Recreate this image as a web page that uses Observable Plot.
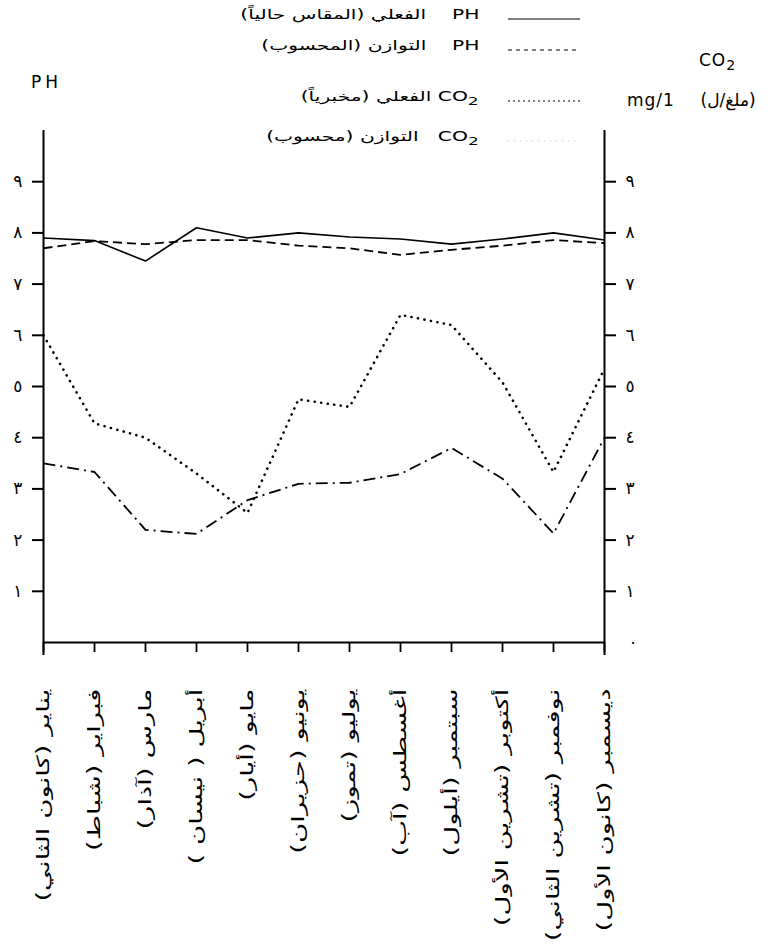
<!DOCTYPE html>
<html>
<head>
<meta charset="utf-8">
<script src="https://cdn.jsdelivr.net/npm/d3@7"></script>
<script src="https://cdn.jsdelivr.net/npm/@observablehq/plot@0.6"></script>
<style>
  body { margin: 0; background: #fff; }
  #wrap { position: relative; width: 771px; height: 951px; font-family: "DejaVu Sans", sans-serif; color: #000; }
  #wrap svg.plot { position: absolute; left: 0; top: 0; }
  .lg { position: absolute; font-size: 13.5px; white-space: nowrap; }
  .lgtext { position: absolute; right: 292px; direction: rtl; text-align: right; transform: scaleX(1.5); transform-origin: right center; }
  .lgline { position: absolute; left: 508px; }
  .title { position: absolute; font-size: 17px; white-space: nowrap; letter-spacing: 1px; }
</style>
</head>
<body>
<div id="wrap"></div>
<script>
const months = ["يناير (كانون الثاني)", "فبراير (شباط)", "مارس (آذار)", "أبريل ( نيسان )", "مايو (أيار)", "يونيو (حزيران)",
  "يوليو (تموز)", "أغسطس (آب)", "سبتمبر (أيلول)", "أكتوبر (تشرين الأول)", "نوفمبر (تشرين الثاني)", "ديسمبر (كانون الأول)"];
const phActual = [7.9, 7.85, 7.45, 8.1, 7.9, 8.0, 7.92, 7.88, 7.78, 7.88, 8.0, 7.86];
const phEquilibrium = [7.7, 7.84, 7.78, 7.86, 7.86, 7.75, 7.7, 7.57, 7.67, 7.75, 7.86, 7.8];
const co2Actual = [6.0, 4.28, 4.0, 3.3, 2.53, 4.75, 4.6, 6.4, 6.2, 5.08, 3.33, 5.35];
const co2Equilibrium = [3.5, 3.33, 2.2, 2.12, 2.78, 3.1, 3.12, 3.29, 3.8, 3.2, 2.13, 4.0];
const yTicks = [1, 2, 3, 4, 5, 6, 7, 8, 9];
const yZeroTick = [0];
const yDomain = [0, 10];
const arabicDigits = ["٠", "١", "٢", "٣", "٤", "٥", "٦", "٧", "٨", "٩"];
const legendLabels = [
  "PH&nbsp;&nbsp;&nbsp; الفعلي (المقاس حالياً)",
  "PH&nbsp;&nbsp;&nbsp; التوازن (المحسوب)",
  "CO<sub>2</sub> الفعلي (مخبرياً)",
  "CO<sub>2</sub>&nbsp;&nbsp; التوازن (محسوب)"
];

const series = [
  {name: "phActual", values: phActual, dash: null, width: 1.6, cap: "butt"},
  {name: "phEquilibrium", values: phEquilibrium, dash: "9,5", width: 1.8, cap: "butt"},
  {name: "co2Actual", values: co2Actual, dash: "0.1,6.5", width: 2.6, cap: "round"},
  {name: "co2Equilibrium", values: co2Equilibrium, dash: "12,5,2,5", width: 1.8, cap: "butt"}
];

const rows = series.map(s => s.values.map((v, i) => ({month: months[i], value: v})));
const rlm = "\u200F";
const fmt = d => arabicDigits[d];

const chart = Plot.plot({
  width: 771,
  height: 951,
  marginLeft: 43,
  marginRight: 167,
  marginTop: 130,
  marginBottom: 309,
  style: {fontFamily: "DejaVu Sans, sans-serif", color: "#000", background: "#fff", overflow: "visible"},
  x: {type: "point", domain: months, padding: 0},
  y: {domain: yDomain},
  marks: [
    ...series.map((s, k) => Plot.line(rows[k], {
      x: "month", y: "value", stroke: "#000", strokeWidth: s.width,
      strokeDasharray: s.dash, strokeLinecap: s.cap, strokeLinejoin: "round"
    })),
    Plot.ruleY(yZeroTick, {stroke: "#000", strokeWidth: 2}),
    Plot.ruleX([months[0], months[months.length - 1]], {stroke: "#000", strokeWidth: 2, insetBottom: -13}),
    Plot.axisX({
      tickSize: 10, tickRotate: -90, tickPadding: 36, fontSize: 17, label: null,
      strokeWidth: 1.8, tickFormat: d => rlm + d + rlm
    }),
    Plot.axisY({
      anchor: "left", ticks: yTicks, tickSize: 11, tickPadding: 10, fontSize: 17,
      label: null, strokeWidth: 2, tickFormat: fmt
    }),
    Plot.axisY({
      anchor: "right", ticks: yTicks, tickSize: 11, tickPadding: 10, fontSize: 17,
      label: null, strokeWidth: 2, tickFormat: fmt
    }),
    Plot.axisY({
      anchor: "right", ticks: yZeroTick, tickSize: 0, tickPadding: 24, fontSize: 17,
      label: null, tickFormat: fmt
    })
  ]
});
chart.classList.add("plot");

// widen the rotated month labels along their reading direction
chart.querySelectorAll('g[aria-label="x-axis tick label"] text').forEach(t => {
  const tr = t.getAttribute("transform") || "";
  t.setAttribute("transform", tr + " scale(1.62,1)");
});

const wrap = document.getElementById("wrap");
wrap.appendChild(chart);

// Legend (HTML, above the chart)
const legendY = [6, 37, 88, 128];
const legendStyles = [
  {dash: "", width: 1, color: "#000"},
  {dash: "4,4", width: 1.2, color: "#000"},
  {dash: "2,3", width: 1.2, color: "#000"},
  {dash: "1,5", width: 1, color: "#bbb"}
];
legendLabels.forEach((t, i) => {
  const txt = document.createElement("div");
  txt.className = "lg lgtext";
  txt.style.top = legendY[i] + "px";
  txt.innerHTML = t;
  wrap.appendChild(txt);
  const ln = document.createElement("div");
  ln.className = "lg lgline";
  ln.style.top = (legendY[i] + 3) + "px";
  const st = legendStyles[i];
  ln.innerHTML = `<svg width="72" height="14"><line x1="0" x2="72" y1="10" y2="10" stroke="${st.color}" stroke-width="${st.width}" ${st.dash ? `stroke-dasharray="${st.dash}"` : ""}/></svg>`;
  wrap.appendChild(ln);
});

// Axis titles
const t1 = document.createElement("div");
t1.className = "title";
t1.style.left = "31px"; t1.style.top = "72px"; t1.style.letterSpacing = "4px";
t1.textContent = "PH";
wrap.appendChild(t1);

const t2 = document.createElement("div");
t2.className = "title";
t2.style.left = "699px"; t2.style.top = "50px";
t2.innerHTML = "CO<sub>2</sub>";
wrap.appendChild(t2);

const t3 = document.createElement("div");
t3.className = "title";
t3.style.left = "627px"; t3.style.top = "90px";
t3.innerHTML = 'mg/1&nbsp;&nbsp;&nbsp; <span dir="rtl" style="font-size:17px;letter-spacing:0">(ملغ/ل)</span>';
wrap.appendChild(t3);
</script>
</body>
</html>
